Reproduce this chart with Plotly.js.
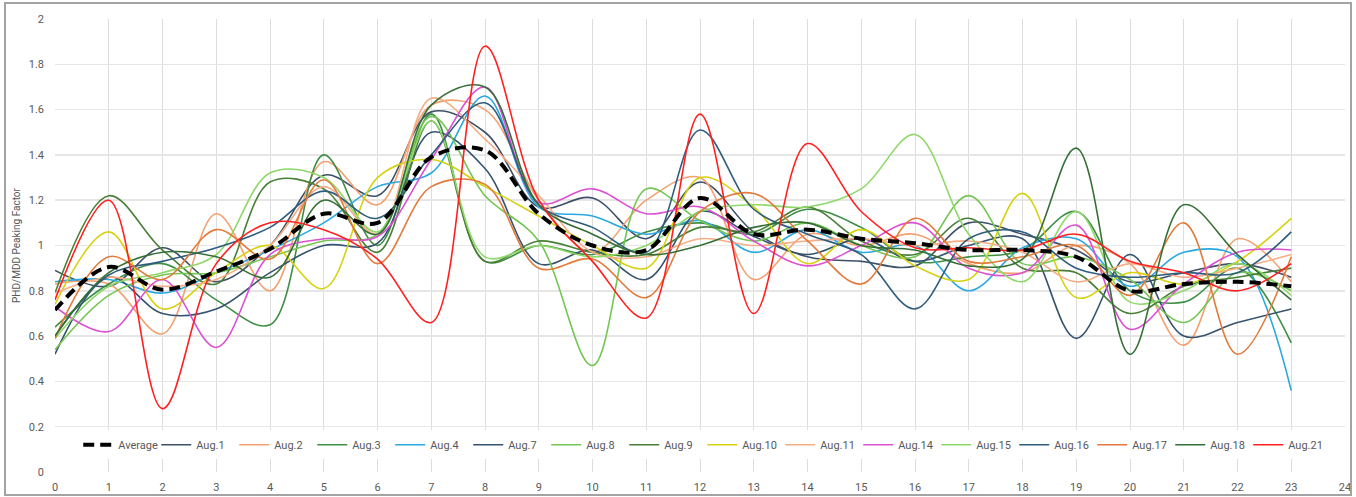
<!DOCTYPE html>
<html>
<head>
<meta charset="utf-8">
<script src="https://cdn.plot.ly/plotly-3.0.1.min.js"></script>
<style>
  html, body { margin: 0; padding: 0; background: #ffffff; }
  #chart { width: 1356px; height: 497px; }
</style>
</head>
<body>
<div id="chart"></div>
<script>
// Hour of day
const hours = [0,1,2,3,4,5,6,7,8,9,10,11,12,13,14,15,16,17,18,19,20,21,22,23];

// PHD/MDD peaking factor per hour, one array per day
const average = [0.715,0.905,0.805,0.885,0.985,1.14,1.10,1.39,1.42,1.14,1.00,0.98,1.21,1.05,1.07,1.03,1.01,0.98,0.98,0.95,0.80,0.83,0.84,0.82];
const aug1  = [0.89,0.82,0.99,0.84,1.00,1.31,1.22,1.59,1.50,1.17,1.21,1.03,1.28,1.06,0.95,0.93,0.91,1.10,1.05,0.98,0.84,0.88,0.92,0.86];
const aug2  = [0.83,0.83,0.61,1.14,0.80,1.37,1.18,1.62,1.60,1.20,0.97,1.20,1.30,0.85,1.05,1.00,1.05,0.92,0.88,1.00,0.92,0.56,1.03,0.84];
const aug3  = [0.64,0.83,0.92,0.76,0.65,1.40,1.00,1.58,0.93,1.00,0.96,1.06,1.10,1.05,1.16,1.08,0.93,0.95,0.98,1.15,0.80,0.75,0.90,0.57];
const aug4  = [0.84,0.85,0.79,0.88,0.98,1.10,1.26,1.32,1.66,1.17,1.13,1.05,1.11,0.97,1.07,0.97,1.00,0.80,0.99,1.03,0.82,0.97,0.95,0.36];
const aug7  = [0.52,0.86,0.70,0.72,0.88,1.00,1.01,1.50,1.34,0.92,0.98,0.85,1.15,1.04,0.96,1.03,0.93,1.00,1.03,0.59,0.96,0.60,0.66,0.72];
const aug8  = [0.54,0.78,0.87,0.88,0.95,1.02,1.05,1.57,1.22,1.02,0.47,1.25,1.11,1.02,1.10,1.00,0.95,1.22,0.92,0.95,0.85,0.66,0.88,0.80];
const aug9  = [0.79,1.22,0.98,0.83,1.28,1.25,0.97,1.55,0.93,1.02,0.97,0.96,1.08,1.06,1.17,1.02,0.96,1.12,0.90,0.88,0.70,0.82,0.86,0.90];
const aug10 = [0.74,1.06,0.72,0.88,1.00,0.81,1.30,1.38,1.26,1.13,1.00,0.90,1.30,1.17,0.92,1.07,0.91,0.85,1.23,0.77,0.88,0.83,0.93,1.12];
const aug11 = [0.79,0.86,0.82,0.85,1.00,1.26,1.05,1.65,1.47,1.22,0.97,0.95,1.03,1.00,1.02,1.03,1.00,1.02,0.97,0.84,0.92,0.86,0.90,0.96];
const aug14 = [0.73,0.62,0.85,0.55,0.96,1.03,1.04,1.38,1.70,1.19,1.25,1.14,1.17,1.02,0.91,1.00,1.10,0.90,0.88,1.09,0.63,0.83,0.97,0.98];
const aug15 = [0.59,0.82,0.88,0.96,1.32,1.30,1.06,1.55,0.95,1.00,0.95,1.00,1.15,1.18,1.17,1.25,1.49,1.05,0.84,1.15,0.75,0.80,0.92,0.78];
const aug16 = [0.60,0.87,0.93,0.99,1.08,1.24,1.12,1.40,1.63,1.18,1.08,0.97,1.51,1.16,1.05,0.96,0.72,1.03,1.06,0.90,0.86,0.88,0.88,1.06];
const aug17 = [0.59,0.95,0.85,1.07,0.94,1.29,0.92,1.26,1.27,0.90,0.94,0.77,1.15,1.23,1.02,0.83,1.12,0.93,0.95,1.00,0.78,1.10,0.52,0.95];
const aug18 = [0.60,0.88,0.97,0.95,0.86,1.20,1.05,1.62,1.70,1.18,1.05,0.96,1.00,1.08,1.10,1.00,0.98,0.91,0.94,1.43,0.52,1.18,0.96,0.76];
const aug21 = [0.76,1.20,0.28,0.92,1.10,1.07,0.94,0.66,1.88,1.20,0.93,0.68,1.58,0.70,1.45,1.15,0.99,0.99,0.98,1.05,0.93,0.88,0.80,0.92];

const dayNames  = ['Aug.1','Aug.2','Aug.3','Aug.4','Aug.7','Aug.8','Aug.9','Aug.10','Aug.11','Aug.14','Aug.15','Aug.16','Aug.17','Aug.18','Aug.21'];
const daySeries = [aug1, aug2, aug3, aug4, aug7, aug8, aug9, aug10, aug11, aug14, aug15, aug16, aug17, aug18, aug21];
const dayColors = ['#3d5068','#f4a070','#3e8f44','#2aa8e0','#35536e','#74c653','#4a7f38','#d6d210','#f5ad86','#dc50d4','#8fd86a','#2f5d7e','#e27a3c','#366f36','#ff1f1f'];

const traces = [];
dayNames.forEach((n, i) => {
  traces.push({
    x: hours, y: daySeries[i], name: n, type: 'scatter', mode: 'lines',
    legendrank: 10 + i,
    line: { color: dayColors[i], width: 1.6, shape: 'spline', smoothing: 1 }
  });
});
// average drawn last so it sits on top, but listed first in the legend
traces.push({
  x: hours, y: average, name: 'Average', type: 'scatter', mode: 'lines',
  legendrank: 1,
  line: { color: '#000000', width: 4, dash: '11px,6px', shape: 'spline', smoothing: 1 }
});

const tickFont = { family: 'Roboto, Arial, sans-serif', size: 11, color: '#595959' };

const layout = {
  width: 1356, height: 497,
  margin: { l: 55, r: 11, t: 19, b: 25 },
  paper_bgcolor: '#ffffff', plot_bgcolor: '#ffffff',
  showlegend: true,
  legend: {
    orientation: 'h', traceorder: 'normal',
    x: 0.018, y: 0.06, xanchor: 'left', yanchor: 'middle',
    bgcolor: '#ffffff', borderwidth: 0,
    font: { family: 'Roboto, Arial, sans-serif', size: 11, color: '#595959' },
    itemwidth: 30, entrywidth: 33, entrywidthmode: 'pixels', tracegroupgap: 0
  },
  xaxis: {
    range: [0, 24], dtick: 1, tick0: 0,
    showgrid: true, gridcolor: '#dedede', gridwidth: 1,
    zeroline: false, showline: false, ticks: '',
    tickfont: tickFont, ticklabelstandoff: 7, fixedrange: true
  },
  yaxis: {
    range: [0, 2], dtick: 0.2, tick0: 0,
    showgrid: true, gridcolor: '#e6e6e6', gridwidth: 1.5,
    zeroline: false, showline: false, ticks: '',
    tickfont: tickFont, ticklabelstandoff: 10,
    title: { text: 'PHD/MDD Peaking Factor', font: { family: 'Roboto, Arial, sans-serif', size: 10, color: '#595959' }, standoff: 6 },
    fixedrange: true
  },
  shapes: [{
    type: 'rect', xref: 'paper', yref: 'paper',
    x0: (5 - 55) / 1290, x1: (1351 - 55) / 1290,
    y0: (472 - 495) / 453, y1: (472 - 3) / 453,
    line: { color: '#a3a3a3', width: 2 }, fillcolor: 'rgba(0,0,0,0)', layer: 'above'
  }]
};

Plotly.newPlot('chart', traces, layout, { displayModeBar: false, staticPlot: true });
</script>
</body>
</html>
